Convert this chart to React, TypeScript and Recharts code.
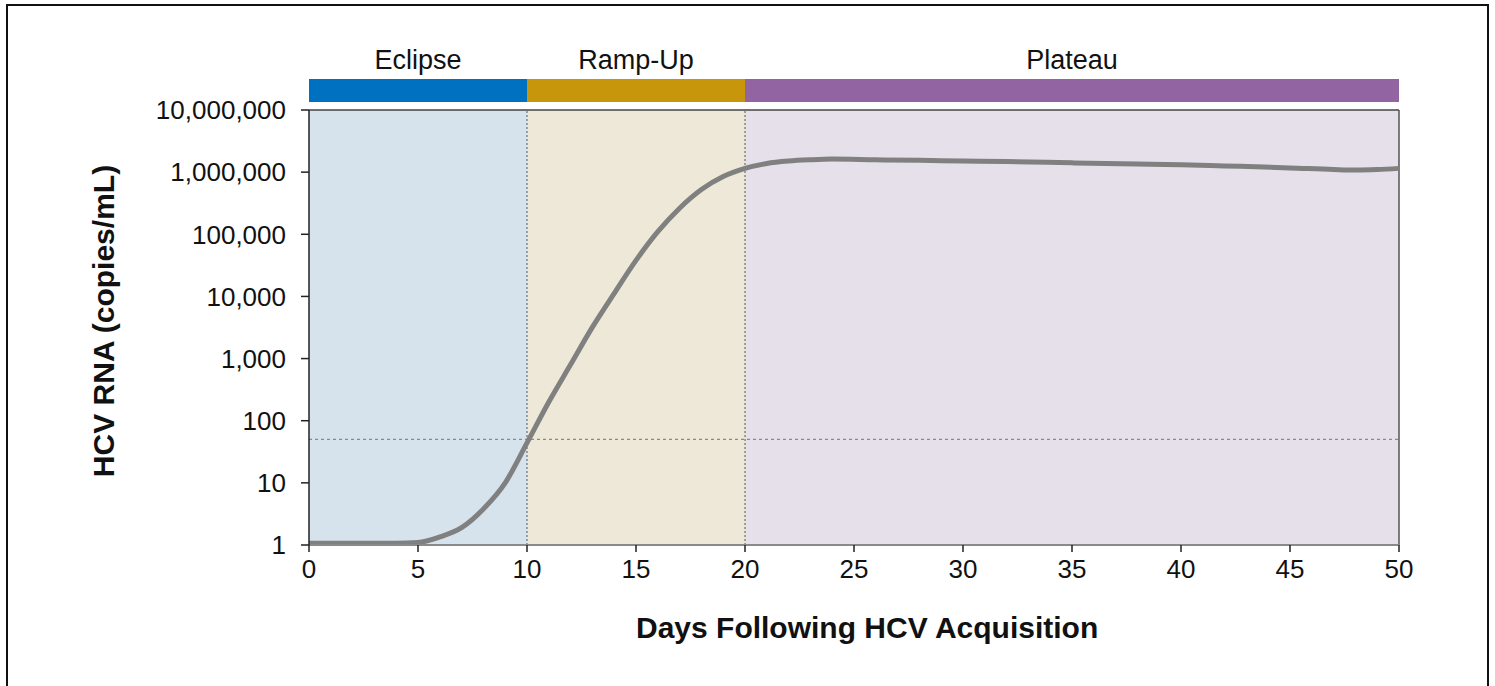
import React from 'react'
import { ComposedChart, Line, XAxis, YAxis, ReferenceArea, ReferenceLine } from 'recharts'

// days after acquisition and HCV RNA level (copies/mL)
const days = [0, 2, 4, 5, 6, 7, 8, 9, 10, 11, 12, 13, 14, 15, 16, 17, 18, 19, 20, 21, 22, 23, 24, 26, 28, 30, 32, 35, 38, 40, 42, 45, 47, 48, 49, 50]
const rna = [1.07, 1.07, 1.07, 1.1, 1.35, 1.9, 3.8, 10, 44, 200, 800, 3200, 11200, 38000, 110000, 263000, 525000, 850000, 1150000, 1380000, 1510000, 1580000, 1620000, 1580000, 1550000, 1510000, 1480000, 1410000, 1350000, 1320000, 1260000, 1170000, 1100000, 1080000, 1100000, 1150000]

const phaseNames = ['Eclipse', 'Ramp-Up', 'Plateau']
const phaseStart = [0, 10, 20]
const phaseEnd = [10, 20, 50]
const phaseBarLow = 13500000
const phaseBarHigh = 31600000

const detectionLimit = 50
const xTicks = [0, 5, 10, 15, 20, 25, 30, 35, 40, 45, 50]
const yTicks = [1, 10, 100, 1000, 10000, 100000, 1000000, 10000000]

const BAR = ['#0070C0', '#C8960A', '#9264A1']
const BAND = ['#D6E2EC', '#EDE8D7', '#E5E0E9']
const FONT = '"Liberation Sans", Arial, sans-serif'

const data = days.map((d, i) => ({ day: d, rna: rna[i] }))

export default function App() {
  return (
    <div style={{ position: 'absolute', left: 0, top: 0, width: 1495, height: 686, overflow: 'hidden', background: '#fff', fontFamily: FONT }}>
      <div style={{ position: 'absolute', left: 6, top: 4, width: 1483, height: 720, border: '2px solid #111', boxSizing: 'border-box' }} />
      <ComposedChart width={1495} height={686} data={data} margin={{ top: 110, right: 96, left: 0, bottom: 81 }}
        style={{ position: 'absolute', left: 0, top: 0 }}>
        {phaseNames.map((p, i) => (
          <ReferenceArea key={'band' + p} x1={phaseStart[i]} x2={phaseEnd[i]} y1={1} y2={10000000} fill={BAND[i]} fillOpacity={1} stroke="none" />
        ))}
        {phaseNames.map((p, i) => (
          <ReferenceArea key={'bar' + p} x1={phaseStart[i]} x2={phaseEnd[i]} y1={phaseBarLow} y2={phaseBarHigh}
            ifOverflow="visible" fill={BAR[i]} fillOpacity={1} stroke="none"
            label={{ value: p, position: 'top', offset: 10, fontSize: 27, fill: '#111', fontFamily: FONT }} />
        ))}
        <ReferenceLine y={detectionLimit} stroke="#8a8a8a" strokeDasharray="3 3" strokeWidth={1.2} />
        <ReferenceLine x={10} stroke="#555" strokeDasharray="2 2" strokeWidth={1} />
        <ReferenceLine x={20} stroke="#555" strokeDasharray="2 2" strokeWidth={1} />
        <ReferenceLine y={10000000} stroke="#444" strokeWidth={1.5} />
        <ReferenceLine x={50} stroke="#555" strokeWidth={1.5} />
        <XAxis dataKey="day" type="number" domain={[0, 50]} ticks={xTicks} interval={0}
          height={60} tickSize={7} tickMargin={8}
          axisLine={{ stroke: '#8a8a8a', strokeWidth: 2 }} tickLine={{ stroke: '#222', strokeWidth: 1.5 }}
          tick={{ fontSize: 26, fill: '#111', fontFamily: FONT }} />
        <YAxis type="number" scale="log" domain={[1, 10000000]} ticks={yTicks} interval={0} allowDataOverflow
          width={309} tickSize={8} tickMargin={15}
          axisLine={{ stroke: '#222', strokeWidth: 1.5 }} tickLine={{ stroke: '#222', strokeWidth: 1.5 }}
          tick={{ fontSize: 26, fill: '#111', fontFamily: FONT }}
          tickFormatter={(v: number) => v.toLocaleString('en-US')} />
        <Line type="monotone" dataKey="rna" stroke="#808080" strokeWidth={5} dot={false} activeDot={false} isAnimationActive={false} />
      </ComposedChart>
      <div style={{ position: 'absolute', left: 636, top: 610, fontSize: 30, fontWeight: 700, color: '#111', whiteSpace: 'nowrap', lineHeight: '36px' }}>
        Days Following HCV Acquisition
      </div>
      <div style={{ position: 'absolute', left: 104, top: 321, transform: 'translate(-50%, -50%) rotate(-90deg)', fontSize: 30, fontWeight: 700, color: '#111', whiteSpace: 'nowrap', lineHeight: '36px' }}>
        HCV RNA (copies/mL)
      </div>
    </div>
  )
}
